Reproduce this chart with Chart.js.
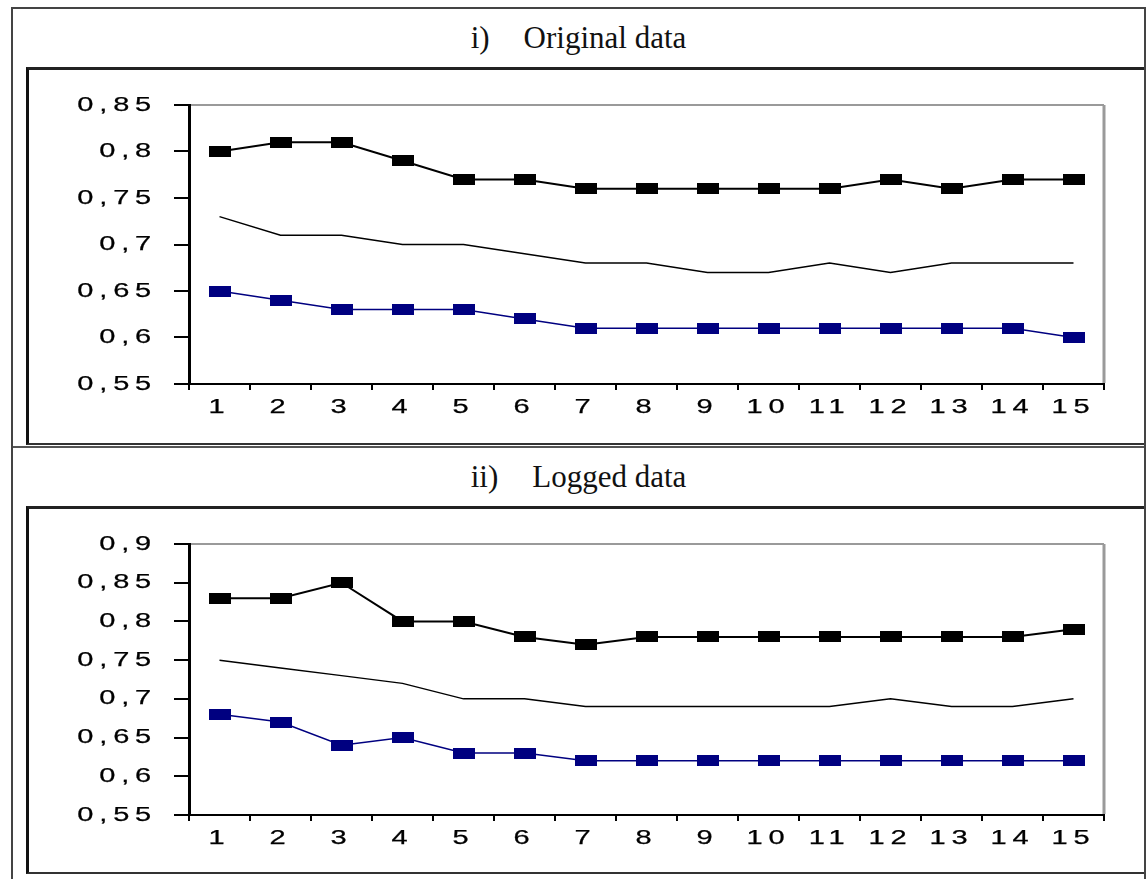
<!DOCTYPE html>
<html>
<head>
<meta charset="utf-8">
<script src="https://cdn.jsdelivr.net/npm/chart.js@4"></script>
<style>
  body { margin: 0; background: #fff; width: 1147px; height: 879px; overflow: hidden; position: relative; }
  .abs { position: absolute; box-sizing: border-box; }
  .outer { left: 11px; top: 7px; width: 1135px; height: 880px; border: 2px solid #444; border-bottom: none; }
  .hdr { left: 13px; width: 1131px; height: 60px; display: flex; align-items: center; justify-content: center;
         font-family: "Liberation Serif", "Times New Roman", serif; font-size: 31px; color: #111; }
  .hdr span.t { margin-left: 34px; }
  .box { left: 26px; width: 1118px; border-left: 3px solid #111; border-top: 3px solid #222; border-bottom: 2px solid #333; }
</style>
</head>
<body>
<div class="abs outer"></div>
<div class="abs hdr" style="top:8px"><span>i)</span><span class="t">Original data</span></div>
<div class="abs box" style="top:67px;height:378px"></div>
<div class="abs" style="left:13px;top:446px;width:1131px;height:2px;background:#555"></div>
<div class="abs hdr" style="top:447px"><span>ii)</span><span class="t">Logged data</span></div>
<div class="abs box" style="top:506px;height:368px"></div>
<div class="abs" style="left:30px;top:71px;width:1112px;height:372px"><canvas id="chart1"></canvas></div>
<div class="abs" style="left:30px;top:510px;width:1112px;height:362px"><canvas id="chart2"></canvas></div>
<script>
const categories = ["1","2","3","4","5","6","7","8","9","10","11","12","13","14","15"];

// i) Original data
const origUpper  = [0.80, 0.81, 0.81, 0.79, 0.77, 0.77, 0.76, 0.76, 0.76, 0.76, 0.76, 0.77, 0.76, 0.77, 0.77];
const origMiddle = [0.73, 0.71, 0.71, 0.70, 0.70, 0.69, 0.68, 0.68, 0.67, 0.67, 0.68, 0.67, 0.68, 0.68, 0.68];
const origLower  = [0.65, 0.64, 0.63, 0.63, 0.63, 0.62, 0.61, 0.61, 0.61, 0.61, 0.61, 0.61, 0.61, 0.61, 0.60];
const origTicks = { min: 0.55, max: 0.85, step: 0.05 };

// ii) Logged data
const logUpper  = [0.83, 0.83, 0.85, 0.80, 0.80, 0.78, 0.77, 0.78, 0.78, 0.78, 0.78, 0.78, 0.78, 0.78, 0.79];
const logMiddle = [0.75, 0.74, 0.73, 0.72, 0.70, 0.70, 0.69, 0.69, 0.69, 0.69, 0.69, 0.70, 0.69, 0.69, 0.70];
const logLower  = [0.68, 0.67, 0.64, 0.65, 0.63, 0.63, 0.62, 0.62, 0.62, 0.62, 0.62, 0.62, 0.62, 0.62, 0.62];
const logTicks = { min: 0.55, max: 0.9, step: 0.05 };

function rectMarker(color) {
  const c = document.createElement("canvas");
  c.width = 22; c.height = 11;
  const g = c.getContext("2d");
  g.fillStyle = color;
  g.fillRect(0, 0, 22, 11);
  return c;
}

// the original tick text is stretched wide; draw it scaled in x around its anchor
const wideText = {
  id: "wideText",
  beforeDraw: chart => {
    const ctx = chart.ctx;
    ctx.letterSpacing = "4px";
    if (ctx._wide) return;
    const fill = ctx.fillText;
    ctx.fillText = function(t, x, y, w) {
      this.save();
      this.translate(x, y);
      this.scale(1.45, 1);
      this.lineWidth = 0.25;
      this.strokeStyle = this.fillStyle;
      fill.call(this, t, 0, 0);
      this.strokeText(t, 0, 0);
      this.restore();
    };
    ctx._wide = true;
  }
};

// gray frame on top and right of the plot
const frame = {
  id: "frame",
  afterDraw: chart => {
    const a = chart.chartArea, ctx = chart.ctx;
    ctx.save();
    ctx.strokeStyle = "#9a9a9a";
    ctx.lineWidth = 2;
    ctx.beginPath();
    ctx.moveTo(a.left + 2, a.top);
    ctx.lineTo(a.right, a.top);
    ctx.stroke();
    ctx.lineWidth = 3;
    ctx.beginPath();
    ctx.moveTo(a.right, a.top);
    ctx.lineTo(a.right, a.bottom - 1);
    ctx.stroke();
    ctx.restore();
  }
};

function makeChart(id, upper, middle, lower, yt, bottomSpace) {
  const tickFont = { family: "'Liberation Sans', Arial, sans-serif", size: 20 };
  return new Chart(document.getElementById(id).getContext("2d"), {
    type: "line",
    data: {
      labels: categories,
      datasets: [
        { data: upper, borderColor: "#000", borderWidth: 2, pointStyle: rectMarker("#000"), tension: 0 },
        { data: middle, borderColor: "#000", borderWidth: 1.5, pointRadius: 0, tension: 0 },
        { data: lower, borderColor: "#000080", borderWidth: 1.5, pointStyle: rectMarker("#000080"), tension: 0 }
      ]
    },
    options: {
      responsive: true,
      maintainAspectRatio: false,
      animation: false,
      events: [],
      layout: { padding: { top: 34, right: 38, left: 0, bottom: 0 } },
      plugins: { legend: { display: false }, tooltip: { enabled: false } },
      scales: {
        x: {
          offset: true,
          grid: { offset: true, drawOnChartArea: false, tickLength: 6, color: "#000", lineWidth: 2 },
          border: { color: "#000", width: 2 },
          ticks: { color: "#000", font: tickFont, padding: 5, autoSkip: false, maxRotation: 0 },
          afterFit: s => { s.height = bottomSpace; }
        },
        y: {
          min: yt.min,
          max: yt.max,
          grid: { drawOnChartArea: false, tickLength: 15, color: "#000", lineWidth: 2 },
          border: { color: "#000", width: 3 },
          ticks: {
            stepSize: yt.step,
            color: "#000",
            font: tickFont,
            padding: 17,
            callback: v => String(+v.toFixed(2)).replace(".", ",")
          },
          afterFit: s => { s.width = 159; }
        }
      }
    },
    plugins: [wideText, frame]
  });
}

makeChart("chart1", origUpper, origMiddle, origLower, origTicks, 59);
makeChart("chart2", logUpper, logMiddle, logLower, logTicks, 57);
</script>
</body>
</html>
